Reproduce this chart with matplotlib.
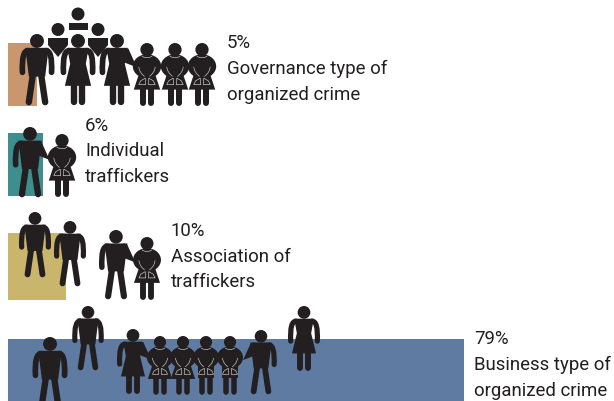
import matplotlib
matplotlib.use('Agg')
import matplotlib.pyplot as plt
from matplotlib.patches import Circle, Ellipse, Polygon, PathPatch, Rectangle
from matplotlib.path import Path

plt.rcParams['font.family'] = ['Roboto', 'DejaVu Sans']

# shares of the four crime types
shares = [5, 6, 10, 79]
share_labels = ['5%', '6%', '10%', '79%']
type_lines = [['Governance type of', 'organized crime'],
              ['Individual', 'traffickers'],
              ['Association of', 'traffickers'],
              ['Business type of', 'organized crime']]
colors = ['#C9966D', '#3F8E8F', '#C9B56B', '#5F7BA2']

# layout in pixels
W, H = 614, 401
px_per_pct = 5.77
bar_left = 8
bar_mid = [74.5, 164.5, 266.5, 373]
bar_h = [63, 63, 67, 68]
text_x = [227, 85, 171, 474]
text_y = [43, 126, 231, 339]
line_gap = [26, 25.5, 25.5, 26]

INK = '#231F20'

fig = plt.figure(figsize=(W / 100, H / 100), dpi=100)
ax = fig.add_axes([0, 0, 1, 1])
ax.set_xlim(-bar_left / px_per_pct, (W - bar_left) / px_per_pct)
ax.set_ylim(H, 0)
ax.axis('off')
ax.barh(bar_mid, shares, height=bar_h, left=0, color=colors)

# second axes in pixels for the people and the labels
pa = fig.add_axes([0, 0, 1, 1])
pa.set_xlim(0, W)
pa.set_ylim(H, 0)
pa.axis('off')
pa.patch.set_alpha(0)


def stroke(verts, lw, color=INK, curve=False):
    codes = [Path.MOVETO] + ([Path.CURVE3] * (len(verts) - 1) if curve else [Path.LINETO] * (len(verts) - 1))
    pa.add_patch(PathPatch(Path(verts, codes), fill=False, ec=color, lw=lw * 0.72, capstyle='round', joinstyle='round'))


def head(cx, top, h, r=0.098):
    pa.add_patch(Circle((cx, top + r * h), r * h, fc=INK, ec='none'))


def arm(cx, top, h, s, end=0.54):
    p = lambda x, y: (cx + s * x * h, top + y * h)
    stroke([p(0.12, 0.235), p(0.22, 0.225), p(0.205, end)], 0.08 * h, curve=True)


def reach(cx, top, h, s):
    p = lambda x, y: (cx + s * x * h, top + y * h)
    pa.add_patch(Polygon([p(0.1, 0.195), p(0.16, 0.205), p(0.28, 0.47), p(0.1, 0.4)], fc=INK, ec='none'))


def man(cx, top, bottom, side=0):
    h = bottom - top
    p = lambda x, y: (cx + x * h, top + y * h)
    head(cx, top, h)
    pa.add_patch(Polygon([p(-0.165, 0.195), p(0.165, 0.195), p(0.115, 0.6), p(-0.115, 0.6)], fc=INK, ec='none'))
    for s in (-1, 1):
        if s == side:
            reach(cx, top, h, s)
        else:
            arm(cx, top, h, s)
        stroke([p(s * 0.055, 0.55), p(s * 0.115, 0.96)], 0.09 * h)


def woman(cx, top, bottom, side=0):
    h = bottom - top
    p = lambda x, y: (cx + x * h, top + y * h)
    head(cx, top, h)
    pa.add_patch(Polygon([p(-0.15, 0.195), p(0.15, 0.195), p(0.11, 0.42), p(0.185, 0.73), p(-0.185, 0.73), p(-0.11, 0.42)],
                         fc=INK, ec='none'))
    for s in (-1, 1):
        if s == side:
            reach(cx, top, h, s)
        else:
            arm(cx, top, h, s)
        stroke([p(s * 0.062, 0.7), p(s * 0.062, 0.96)], 0.09 * h)


def cuffed(cx, top, bottom, skirt=True):
    h = bottom - top
    p = lambda x, y: (cx + x * h, top + y * h)
    head(cx, top, h, 0.105)
    pa.add_patch(Ellipse(p(0, 0.37), 0.45 * h, 0.38 * h, fc=INK, ec='none'))
    if skirt:
        pa.add_patch(Polygon([p(-0.13, 0.5), p(0.13, 0.5), p(0.21, 0.74), p(-0.21, 0.74)], fc=INK, ec='none'))
    else:
        pa.add_patch(Polygon([p(-0.13, 0.5), p(0.13, 0.5), p(0.13, 0.72), p(-0.13, 0.72)], fc=INK, ec='none'))
    for s in (-1, 1):
        stroke([p(s * 0.065, 0.7), p(s * 0.065, 0.96)], 0.095 * h)
        stroke([p(s * 0.13, 0.38), p(s * 0.12, 0.47), p(s * 0.04, 0.53)], 0.55, color='#E8E8E8', curve=True)
        stroke([p(s * 0.03, 0.56), p(s * 0.1, 0.6), p(s * 0.13, 0.66), p(s * 0.02, 0.66), p(s * 0.03, 0.56)], 0.55, color='#E8E8E8')
    stroke([p(-0.08, 0.21), p(0, 0.26), p(0.08, 0.21)], 0.55, color='#E8E8E8', curve=True)


def bust_shield(cx, top):
    pa.add_patch(Circle((cx, top + 6.5), 6.5, fc=INK, ec='none'))
    pa.add_patch(Polygon([(cx - 10, top + 15), (cx + 10, top + 15), (cx + 10, top + 22), (cx, top + 34), (cx - 10, top + 22)],
                         fc=INK, ec='none', joinstyle='round'))


# governance
man(37, 34, 105)
woman(78, 34, 105)
woman(117, 34, 105, side=1)
cuffed(147, 43, 106)
cuffed(175, 43, 106)
cuffed(202, 43, 106)
pa.add_patch(Circle((78, 14), 6.5, fc=INK, ec='none'))
pa.add_patch(Rectangle((68.5, 23), 19, 7, fc=INK, ec='none'))
bust_shield(58, 23)
bust_shield(98, 23)

# individual
man(30, 127, 197, side=1)
cuffed(62, 134, 197)

# association
man(35, 212, 277)
man(70, 221, 286)
man(116, 230, 299, side=1)
cuffed(147, 237, 299)

# business
man(50, 337, 408)
man(88, 306, 370)
woman(133, 329, 394, side=1)
cuffed(160, 336, 394)
cuffed(183, 336, 394)
cuffed(206, 336, 394, skirt=False)
cuffed(230, 336, 394, skirt=False)
man(261, 330, 394, side=-1)
woman(304, 306, 371)

for i in range(len(shares)):
    pa.text(text_x[i], text_y[i], share_labels[i], fontsize=13.4, color=INK, va='center', ha='left')
    for j, line in enumerate(type_lines[i]):
        pa.text(text_x[i], text_y[i] + line_gap[i] * (j + 1), line, fontsize=13.4, color=INK, va='center', ha='left')

fig.savefig('out.png', dpi=100)
